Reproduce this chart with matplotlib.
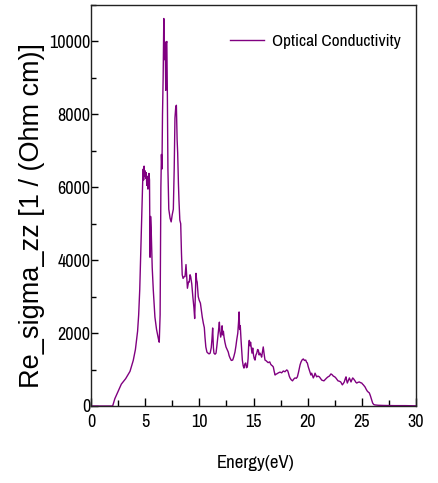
import matplotlib
matplotlib.use("Agg")
import matplotlib.pyplot as plt
from matplotlib.ticker import MultipleLocator

# Optical conductivity spectrum (real part, zz component)
energy = [0.0, 1.0, 2.0, 2.2, 2.5, 2.8, 3.2, 3.6, 3.9, 4.1, 4.3, 4.4, 4.5, 4.6, 4.68, 4.77, 4.82, 4.86,
          4.9, 4.95, 5.0, 5.05, 5.1, 5.15, 5.2, 5.25, 5.3, 5.35, 5.4, 5.45, 5.5, 5.55, 5.65, 5.75,
          5.9, 6.05, 6.15, 6.25, 6.3, 6.38, 6.45, 6.5, 6.55, 6.6, 6.66, 6.72, 6.76, 6.8, 6.85, 6.9,
          6.95, 7.0, 7.05, 7.1, 7.18, 7.3, 7.4, 7.5, 7.6, 7.68, 7.75, 7.82, 7.88, 7.95, 8.0, 8.07,
          8.12, 8.2, 8.28, 8.35, 8.42, 8.5, 8.6, 8.68, 8.77, 8.85, 8.9, 9.0, 9.07, 9.14, 9.2, 9.3,
          9.4, 9.5, 9.57, 9.63, 9.69, 9.75, 9.8, 9.9, 9.99, 10.1, 10.2, 10.27, 10.37, 10.46, 10.52,
          10.6, 10.7, 10.8, 10.9, 11.0, 11.1, 11.17, 11.23, 11.3, 11.35, 11.45, 11.54, 11.62, 11.7,
          11.78, 11.85, 11.9, 11.97, 12.05, 12.1, 12.16, 12.22, 12.28, 12.36, 12.46, 12.57, 12.67,
          12.75, 12.83, 12.95, 13.08, 13.18, 13.29, 13.38, 13.45, 13.55, 13.62, 13.67, 13.72, 13.78,
          13.85, 13.92, 13.97, 14.05, 14.12, 14.2, 14.28, 14.35, 14.43, 14.5, 14.56, 14.61, 14.68,
          14.73, 14.8, 14.86, 14.93, 15.0, 15.07, 15.14, 15.22, 15.3, 15.38, 15.45, 15.52, 15.6,
          15.68, 15.75, 15.83, 15.9, 15.97, 16.06, 16.13, 16.2, 16.35, 16.5, 16.58, 16.66, 16.75,
          16.83, 16.91, 16.99, 17.07, 17.14, 17.3, 17.45, 17.6, 17.75, 17.9, 18.07, 18.15, 18.2,
          18.3, 18.37, 18.48, 18.6, 18.72, 18.83, 18.95, 19.05, 19.15, 19.23, 19.3, 19.39, 19.5,
          19.6, 19.7, 19.82, 19.9, 19.97, 20.05, 20.15, 20.23, 20.3, 20.37, 20.45, 20.52, 20.6,
          20.68, 20.75, 20.83, 20.95, 21.08, 21.2, 21.3, 21.4, 21.5, 21.63, 21.76, 21.88, 22.0,
          22.15, 22.25, 22.37, 22.5, 22.6, 22.7, 22.8, 22.92, 23.05, 23.12, 23.2, 23.3, 23.38,
          23.46, 23.54, 23.6, 23.66, 23.75, 23.85, 23.92, 24.0, 24.08, 24.16, 24.25, 24.37, 24.45,
          24.53, 24.65, 24.77, 24.88, 24.99, 25.07, 25.14, 25.22, 25.3, 25.4, 25.5, 25.6, 25.69,
          25.78, 25.85, 25.92, 26.0, 26.1, 26.2, 26.5, 27.0, 28.0, 29.0, 30.0]

re_sigma_zz = [0, 0, 0, 200, 400, 600, 750, 950, 1250, 1550, 2050, 2500, 3200, 4300, 5180, 6140, 6500, 6200,
               6580, 6300, 6450, 6250, 6400, 6050, 6300, 5950, 6000, 6380, 6200, 4080, 5200, 4900, 3800, 3180,
               2440, 2100, 1950, 1800, 1750, 2500, 6000, 6900, 6500, 8000, 9000, 10630, 9500, 10000, 9900, 8660,
               9950, 10000, 8500, 6500, 5400, 5150, 5050, 5250, 5400, 6500, 7900, 8190, 8250, 7300, 6950, 6100,
               5640, 5100, 5000, 4200, 3600, 3500, 3550, 3550, 3880, 3500, 3230, 3400, 3400, 3600, 3550, 3350,
               3000, 2700, 2400, 3000, 3640, 3450, 3400, 3000, 2900, 2820, 2600, 2440, 2270, 2150, 1890,
               1620, 1480, 1450, 1430, 1450, 1600, 1850, 2140, 1600, 1450, 1420, 1450, 1650, 1890,
               2100, 2300, 2050, 1890, 2000, 2200, 1950, 2050, 1890, 1750, 1620, 1550, 1480,
               1380, 1320, 1250, 1260, 1350, 1480, 1650, 1810, 2000, 2300, 2580, 2100, 2200,
               1810, 1500, 1260, 1100, 1040, 1150, 1180, 1050, 1070, 1300, 1700, 1800, 1650,
               1750, 1600, 1450, 1590, 1400, 1300, 1260, 1400, 1450, 1550, 1530, 1400, 1450,
               1400, 1340, 1500, 1620, 1450, 1260, 1250, 1230, 1190, 1210, 1150, 1120, 1100,
               1070, 950, 850, 870, 880, 910, 930, 910, 960, 940, 990, 970, 930,
               820, 770, 720, 690, 740, 770, 760, 800, 920, 1040, 1130, 1210, 1270,
               1290, 1250, 1260, 1200, 1180, 1080, 990, 920, 850, 900, 830, 770, 820,
               900, 850, 800, 820, 800, 750, 710, 700, 690, 730, 770, 800, 820,
               880, 860, 820, 800, 770, 730, 690, 680, 660, 620, 580, 620, 660,
               740, 800, 700, 630, 700, 770, 720, 660, 720, 770, 740, 690, 650,
               630, 650, 660, 640, 630, 600, 580, 550, 520, 460, 410, 380, 360,
               290, 220, 150, 80, 40, 30, 20, 15, 10, 10, 5]

x_ticks = [0, 5, 10, 15, 20, 25, 30]
y_ticks = [0, 2000, 4000, 6000, 8000, 10000]

narrow = ["Archivo Narrow", "Fira Sans Extra Condensed", "Liberation Sans", "DejaVu Sans"]
plt.rcParams["font.family"] = narrow

fig = plt.figure(figsize=(4.38, 4.83), dpi=100)
ax = fig.add_axes([91 / 438, 77 / 483, 325 / 438, 401 / 483])

ax.plot(energy, re_sigma_zz, color="#800080", lw=1.0, label="Optical Conductivity")

ax.set_xlim(0, 30)
ax.set_ylim(0, 11000)
ax.set_xticks(x_ticks)
ax.set_yticks(y_ticks)
ax.xaxis.set_minor_locator(MultipleLocator(2.5))
ax.yaxis.set_minor_locator(MultipleLocator(1000))
ax.tick_params(axis="both", which="both", direction="in", top=False, right=False, labelsize=13)
ax.tick_params(axis="x", which="major", length=6, width=1.0, pad=6)
ax.tick_params(axis="x", which="minor", length=4, width=1.0)
ax.tick_params(axis="y", which="major", length=5, width=1.0, pad=0.5)
ax.tick_params(axis="y", which="minor", length=3.5, width=1.0)
for s in ax.spines.values():
    s.set_linewidth(1.0)
    s.set_color("#222222")

ax.set_xlabel("Energy(eV)", fontsize=13.5)
ax.xaxis.set_label_coords(0.505, -0.122)
ax.set_ylabel("Re_sigma_zz [1 / (Ohm cm)]", fontsize=19.5,
              family=["Liberation Sans", "DejaVu Sans"])
ax.yaxis.set_label_coords(-0.1415, 0.474)

ax.legend(loc="center right", bbox_to_anchor=(0.952, 0.908), frameon=False, fontsize=12.5,
          handlelength=1.95, handletextpad=0.45, borderpad=0, borderaxespad=0)

fig.savefig("out.png", dpi=100)
